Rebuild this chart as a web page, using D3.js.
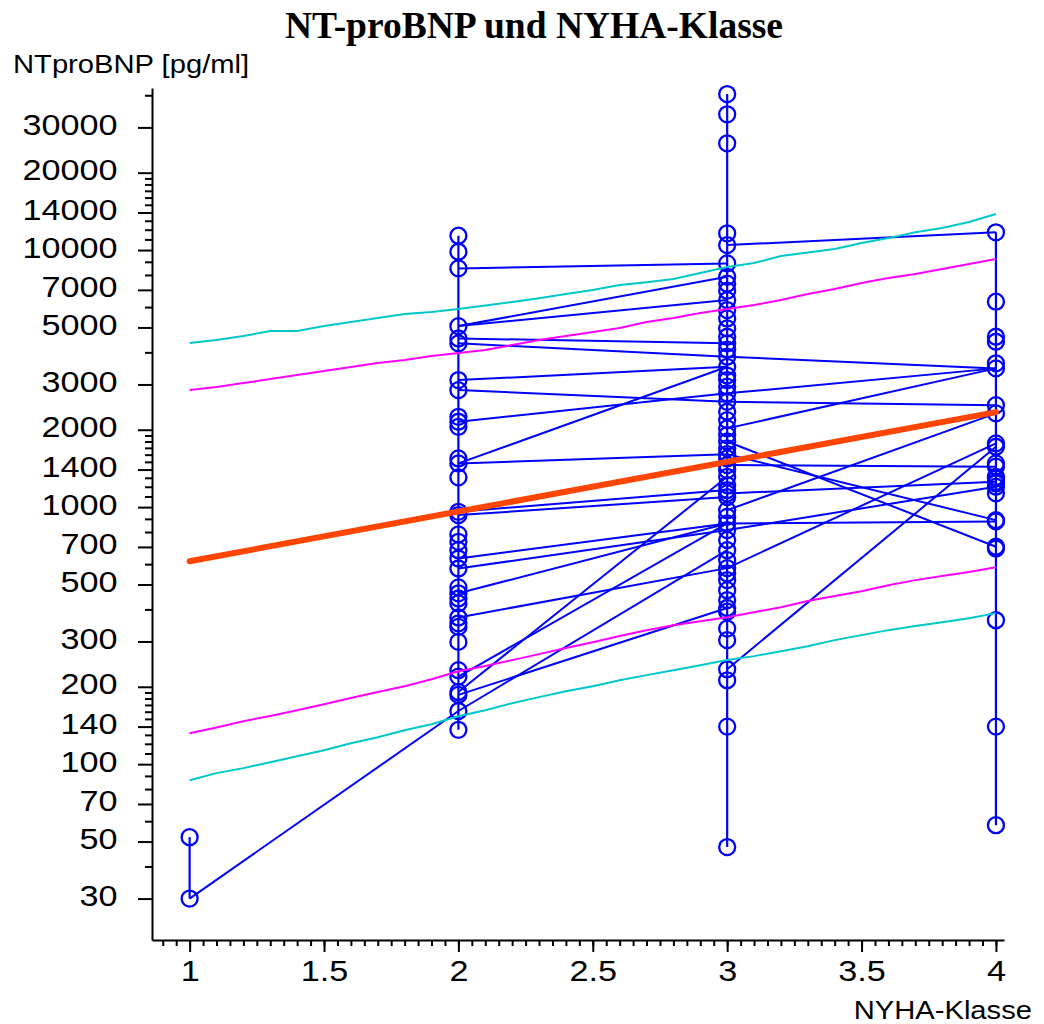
<!DOCTYPE html>
<html>
<head>
<meta charset="utf-8">
<script src="https://cdn.jsdelivr.net/npm/d3@7"></script>
<style>
  body { margin: 0; background: #fff; }
</style>
</head>
<body>
<div class="canvas"></div>
<script>

// measured values per NYHA class (pg/ml)
const nyha1 = [30, 52];
const nyha2 = [11370, 9850, 8485, 5060, 4530, 4335, 3120, 2852, 2245, 2148, 2053, 1546, 1479, 1305,
    959, 931, 783, 733, 680, 631, 577, 487, 462, 441, 422, 372, 353, 342, 299, 232, 219, 191, 186, 161, 136];
const nyha3 = [40450, 33730, 26020, 11620, 10460, 8875, 7870, 7400, 6948, 6390, 5843, 5420, 4956, 4600,
    4335, 4100, 3845, 3515, 3250, 3120, 2940, 2770, 2568, 2350, 2180, 2024, 1906, 1800, 1692, 1607, 1546,
    1457, 1393, 1312, 1218, 1165, 1130, 1094, 973, 917, 864, 814, 745, 680, 622, 579, 552, 520, 475, 435,
    405, 392, 337, 304, 234, 212, 140, 47.6];
const nyha4 = [11720, 6295, 4600, 4398, 3625, 3465, 2493, 2315, 1770, 1717, 1479, 1436, 1312, 1292,
    1254, 1236, 1200, 1131, 890, 880, 701, 690, 363, 140, 57.9];

// same patient, two visits: [class, value, class, value]
const transitions = [
    [1, 30, 2, 161],
    [2, 8485, 3, 8875],
    [2, 5060, 3, 7870],
    [2, 5060, 3, 6390],
    [2, 4530, 3, 4335],
    [2, 4335, 3, 3845],
    [2, 3120, 3, 3515],
    [2, 2852, 3, 2568],
    [2, 2148, 3, 2770],
    [2, 1479, 3, 3515],
    [2, 1479, 3, 1607],
    [2, 959, 3, 1165],
    [2, 931, 3, 1094],
    [2, 631, 3, 864],
    [2, 577, 3, 814],
    [2, 462, 3, 864],
    [2, 372, 3, 579],
    [2, 191, 3, 1312],
    [2, 219, 3, 864],
    [2, 186, 3, 405],
    [2, 161, 3, 680],
    [3, 10460, 4, 11720],
    [3, 3845, 4, 3465],
    [3, 2770, 4, 3465],
    [3, 2024, 4, 3465],
    [3, 2568, 4, 2493],
    [3, 973, 4, 2315],
    [3, 1457, 4, 1436],
    [3, 234, 4, 1717],
    [3, 1607, 4, 890],
    [3, 1800, 4, 701],
    [3, 1130, 4, 1254],
    [3, 814, 4, 1200],
    [3, 579, 4, 1770],
    [3, 864, 4, 880]
];

// regression line and bands
const trendX = [1, 4];
const trendY = [616, 2342];
const bandX = [1.0, 1.1, 1.2, 1.3, 1.4, 1.5, 1.6, 1.7, 1.8, 1.9, 2.0, 2.1, 2.2, 2.3, 2.4, 2.5,
    2.6, 2.7, 2.8, 2.9, 3.0, 3.1, 3.2, 3.3, 3.4, 3.5, 3.6, 3.7, 3.8, 3.9, 4.0];
const upperCyan = [4347, 4465, 4628, 4847, 4847, 5062, 5246, 5437, 5636, 5739, 5893, 6080, 6276, 6500,
    6744, 6990, 7307, 7500, 7714, 8138, 8587, 8902, 9478, 9780, 10090, 10650, 11130, 11720, 12180, 12850, 13810];
const upperMagenta = [2853, 2931, 3037, 3148, 3263, 3382, 3505, 3634, 3733, 3869, 3975, 4083, 4270, 4465,
    4628, 4797, 4972, 5246, 5437, 5687, 5893, 6110, 6390, 6744, 7050, 7439, 7780, 8065, 8434, 8822, 9226];
const lowerMagenta = [132, 139, 147, 154, 162, 171, 181, 191, 201, 214, 230, 241, 254, 268, 283, 298,
    315, 332, 347, 360, 373, 390, 408, 431, 451, 471, 497, 520, 539, 559, 584];
const lowerCyan = [86.6, 92.3, 96.5, 101.8, 107.4, 113.3, 120.7, 127.3, 135.6, 143.1, 153.7, 162.2, 172.7,
    182.3, 192.3, 201.1, 212.2, 222, 232.1, 242.7, 254, 263.2, 275.2, 287.8, 303.8, 317.7, 332.2, 344.4,
    356.8, 369.8, 386.9];

// ticks
const xMajor = [1, 1.5, 2, 2.5, 3, 3.5, 4];
const yMajor = [30, 50, 70, 100, 140, 200, 300, 500, 700, 1000, 1400, 2000, 3000, 5000, 7000,
    10000, 14000, 20000, 30000];
const yMinor = [40, 60, 80, 90, 110, 120, 130, 150, 160, 170, 180, 190, 400, 600, 800, 900,
    1100, 1200, 1300, 1500, 1600, 1700, 1800, 1900, 4000, 6000, 8000, 9000,
    11000, 12000, 13000, 15000, 16000, 17000, 18000, 19000, 40000];

const W = 1044, H = 1024;
const stretch = 1.14;   // the reference font is wider than Arial

const svg = d3.select('.canvas')
    .append('svg')
    .attr('width', W)
    .attr('height', H)
    .style('font-family', '"Liberation Sans", Arial, sans-serif');

const x = d3.scaleLinear().domain([0.86, 4.03]).range([152, 1004]);
const y = d3.scaleLog().domain([20.7, 42700]).range([940, 88]);

// title
svg.append('text')
    .attr('x', 534).attr('y', 38)
    .attr('text-anchor', 'middle')
    .style('font-family', '"Liberation Serif", "Times New Roman", serif')
    .style('font-weight', 'bold')
    .style('font-size', '37.5px')
    .text('NT-proBNP und NYHA-Klasse');

svg.append('text')
    .attr('transform', `translate(13,73) scale(${stretch},1)`)
    .style('font-size', '25.6px')
    .text('NTproBNP [pg/ml]');

svg.append('text')
    .attr('transform', `translate(1032,1019) scale(${stretch},1)`)
    .attr('text-anchor', 'end')
    .style('font-size', '25.6px')
    .text('NYHA-Klasse');

//axes
const xMinorTicks = d3.range(0.9, 4.001, 0.05);

svg.append('g')
    .attr('transform', 'translate(0,940)')
    .call(d3.axisBottom(x).tickValues(xMinorTicks).tickSize(6).tickSizeOuter(0).tickFormat(''))
    .call(g => g.select('.domain').remove());

const xAxisG = svg.append('g')
    .attr('transform', 'translate(0,940)')
    .call(d3.axisBottom(x).tickValues(xMajor).tickSize(12).tickSizeOuter(0).tickFormat(d3.format('')));

xAxisG.selectAll('text')
    .attr('y', 41).attr('dy', null)
    .attr('transform', `scale(${stretch},1)`)
    .style('font-size', '30px')
    .attr('fill', '#000');

svg.append('g')
    .attr('transform', 'translate(152,0)')
    .call(d3.axisLeft(y).tickValues(yMinor).tickSize(7).tickSizeOuter(0).tickFormat(''))
    .call(g => g.select('.domain').remove());

const yAxisG = svg.append('g')
    .attr('transform', 'translate(152,0)')
    .call(d3.axisLeft(y).tickValues(yMajor).tickSize(14).tickSizeOuter(0).tickFormat(d3.format('')));

yAxisG.selectAll('text')
    .attr('x', -34.5 / stretch).attr('dy', null).attr('y', 7)
    .attr('transform', `scale(${stretch},1)`)
    .style('font-size', '30px')
    .attr('fill', '#000');

svg.selectAll('.domain, .tick line')
    .attr('stroke', '#000')
    .attr('stroke-width', 2);

// data
const groups = [nyha1, nyha2, nyha3, nyha4];
const plot = svg.append('g');

groups.forEach((vals, i) => {
    const cls = i + 1;
    plot.append('line')
        .attr('x1', x(cls)).attr('x2', x(cls))
        .attr('y1', y(d3.min(vals))).attr('y2', y(d3.max(vals)))
        .attr('stroke', '#0000ff')
        .attr('stroke-width', 2.2);
});

plot.selectAll('line.pair')
    .data(transitions)
    .enter()
    .append('line')
    .attr('class', 'pair')
    .attr('x1', d => x(d[0])).attr('y1', d => y(d[1]))
    .attr('x2', d => x(d[2])).attr('y2', d => y(d[3]))
    .attr('stroke', '#0000ff')
    .attr('stroke-width', 2);

groups.forEach((vals, i) => {
    plot.append('g').selectAll('circle')
        .data(vals)
        .enter()
        .append('circle')
        .attr('cx', x(i + 1))
        .attr('cy', d => y(d))
        .attr('r', 8)
        .attr('fill', 'none')
        .attr('stroke', '#0000ff')
        .attr('stroke-width', 2.3);
});

// bands
const bandLine = d3.line()
    .x(d => x(d[0]))
    .y(d => y(d[1]));

const bands = [
    { vals: upperCyan, colour: '#00c8c8' },
    { vals: lowerCyan, colour: '#00c8c8' },
    { vals: upperMagenta, colour: '#ff00ff' },
    { vals: lowerMagenta, colour: '#ff00ff' }
];

bands.forEach(b => {
    svg.append('path')
        .attr('d', bandLine(bandX.map((v, i) => [v, b.vals[i]])))
        .attr('fill', 'none')
        .attr('stroke', b.colour)
        .attr('stroke-width', 2);
});

svg.append('path')
    .attr('d', bandLine(trendX.map((v, i) => [v, trendY[i]])))
    .attr('fill', 'none')
    .attr('stroke', '#ff4500')
    .attr('stroke-width', 6)
    .attr('stroke-linecap', 'round');

</script>
</body>
</html>
